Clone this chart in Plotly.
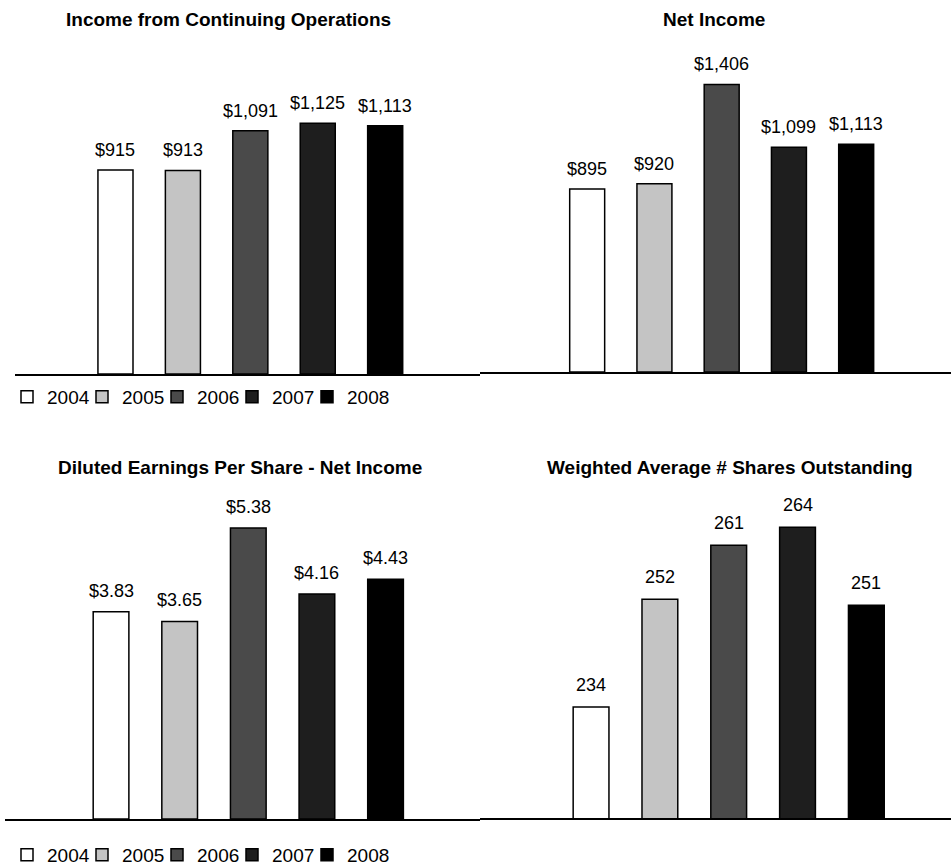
import plotly.graph_objects as go

years = ["2004", "2005", "2006", "2007", "2008"]
income_cont_ops = [915, 913, 1091, 1125, 1113]
net_income = [895, 920, 1406, 1099, 1113]
diluted_eps = [3.83, 3.65, 5.38, 4.16, 4.43]
wavg_shares = [234, 252, 261, 264, 251]

income_labels = ["$915", "$913", "$1,091", "$1,125", "$1,113"]
net_labels = ["$895", "$920", "$1,406", "$1,099", "$1,113"]
eps_labels = ["$3.83", "$3.65", "$5.38", "$4.16", "$4.43"]
shares_labels = ["234", "252", "261", "264", "251"]

titles = ["Income from Continuing Operations", "Net Income",
          "Diluted Earnings Per Share - Net Income",
          "Weighted Average # Shares Outstanding"]

colors = ["#ffffff", "#c4c4c4", "#4a4a4a", "#1e1e1e", "#000000"]

W, H = 951, 867
FONT = "Liberation Sans, Arial, sans-serif"

panels = [
    dict(vals=income_cont_ops, labels=income_labels, xa="x", ya="y", legend="legend", yshift=8),
    dict(vals=net_income, labels=net_labels, xa="x2", ya="y2", legend=None, yshift=8),
    dict(vals=diluted_eps, labels=eps_labels, xa="x3", ya="y3", legend="legend2", yshift=9),
    dict(vals=wavg_shares, labels=shares_labels, xa="x4", ya="y4", legend=None, yshift=10),
]

fig = go.Figure()
annotations = []
for p in panels:
    for i, yr in enumerate(years):
        kw = dict(
            x=[yr], y=[p["vals"][i]], name=yr,
            marker=dict(color=colors[i], line=dict(color="#000000", width=1.5)),
            width=0.52, xaxis=p["xa"], yaxis=p["ya"],
            showlegend=p["legend"] is not None,
        )
        if p["legend"] is not None:
            kw["legend"] = p["legend"]
            if i == len(years) - 1:
                kw["legendwidth"] = 60
        fig.add_trace(go.Bar(**kw))
        annotations.append(dict(
            x=i, y=p["vals"][i], xref=p["xa"], yref=p["ya"],
            text=p["labels"][i], showarrow=False, yanchor="bottom", xanchor="center",
            yshift=p["yshift"], font=dict(family=FONT, size=18, color="#000")))

def py(px):
    return 1 - px / H

def pxx(px):
    return px / W

title_pos = [(228, 19), (714, 19), (240, 467), (730, 467)]
for t, (cx, cy) in zip(titles, title_pos):
    annotations.append(dict(
        x=pxx(cx), y=py(cy), xref="paper", yref="paper", text="<b>" + t + "</b>",
        showarrow=False, xanchor="center", yanchor="middle",
        font=dict(family=FONT, size=19, color="#000")))

xcommon = dict(type="category", showline=True, linecolor="#000", linewidth=2,
               showticklabels=False, ticks="", showgrid=False, zeroline=False,
               fixedrange=True)
ycommon = dict(showline=False, showticklabels=False, ticks="", showgrid=False,
               zeroline=False, fixedrange=True)

fig.update_layout(
    width=W, height=H,
    margin=dict(l=0, r=0, t=0, b=0, autoexpand=False),
    paper_bgcolor="#ffffff", plot_bgcolor="rgba(0,0,0,0)",
    barmode="overlay",
    font=dict(family=FONT, size=18, color="#000"),
    xaxis=dict(domain=[pxx(15), 0.505], range=[-1.49, 5.41], anchor="y", **xcommon),
    yaxis=dict(domain=[py(374), py(40)], range=[0, 1498], anchor="x", **ycommon),
    xaxis2=dict(domain=[0.505, 1], range=[-1.59, 5.41], anchor="y2", **xcommon),
    yaxis2=dict(domain=[py(372), py(40)], range=[0, 1623], anchor="x2", **ycommon),
    xaxis3=dict(domain=[pxx(5), 0.505], range=[-1.545, 5.38], anchor="y3", **xcommon),
    yaxis3=dict(domain=[py(819), py(490)], range=[0, 6.08], anchor="x3", **ycommon),
    xaxis4=dict(domain=[0.505, 1], range=[-1.61, 5.23], anchor="y4", **xcommon),
    yaxis4=dict(domain=[py(818), py(490)], range=[215.5, 270.2], anchor="x4", **ycommon),
    legend=dict(orientation="h", x=pxx(7), xanchor="left", y=py(397), yanchor="middle",
                entrywidth=30, entrywidthmode="pixels", traceorder="normal",
                font=dict(family=FONT, size=19), bgcolor="rgba(0,0,0,0)"),
    legend2=dict(orientation="h", x=pxx(7), xanchor="left", y=py(855), yanchor="middle",
                 entrywidth=30, entrywidthmode="pixels", traceorder="normal",
                 font=dict(family=FONT, size=19), bgcolor="rgba(0,0,0,0)"),
    annotations=annotations,
)

fig.write_html("out.html", config={"displayModeBar": False},
               post_script="document.body.style.margin='0px';")
